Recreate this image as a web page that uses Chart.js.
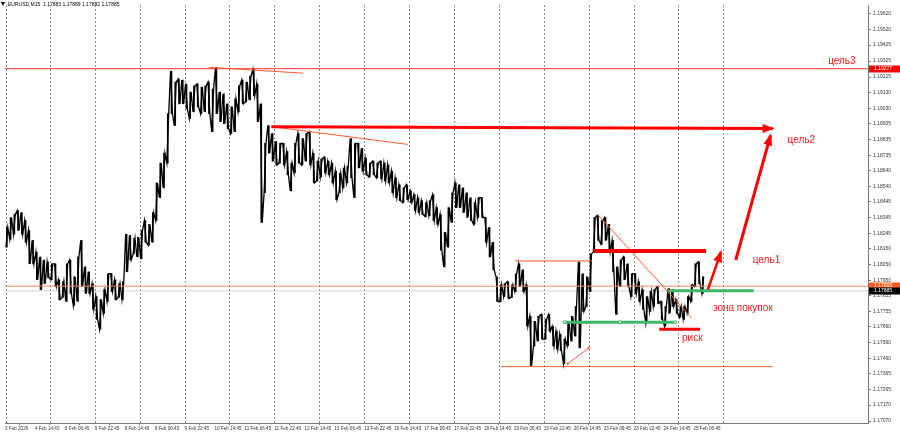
<!DOCTYPE html>
<html>
<head>
<meta charset="utf-8">
<script src="https://cdn.jsdelivr.net/npm/chart.js@4.4.1/dist/chart.umd.min.js"></script>
<style>
  html, body { margin: 0; padding: 0; background: #fff; }
  #wrap { width: 900px; height: 435px; }
</style>
</head>
<body>
<div id="wrap"><canvas id="chart" width="900" height="435"></canvas></div>
<script>
const symbolTitle = "EURUSD,M15  1.17883 1.17889 1.17882 1.17885";

const barHigh = [
  1.18283, 1.18345, 1.18364, 1.18388, 1.18376, 1.18326, 1.18264, 1.18202, 1.18129, 1.18098,
  1.18079, 1.18067, 1.18055, 1.18055, 1.17955, 1.17943, 1.18055, 1.18079, 1.17974, 1.18098,
  1.18202, 1.18036, 1.18005, 1.17931, 1.17850, 1.17831, 1.17893, 1.17993, 1.17993, 1.17955,
  1.17931, 1.17943, 1.18240, 1.18233, 1.18215, 1.18221, 1.18264, 1.18326, 1.18302, 1.18376,
  1.18562, 1.18686, 1.18748, 1.18995, 1.19262, 1.19193, 1.19212, 1.19206, 1.19181, 1.19131,
  1.19169, 1.19181, 1.19162, 1.19169, 1.19193, 1.19150, 1.19286, 1.19131, 1.19119, 1.19057,
  1.19038, 1.19088, 1.19169, 1.19206, 1.19193, 1.19231, 1.19274, 1.19181, 1.19057, 1.18809,
  1.18921, 1.18871, 1.18821, 1.18809, 1.18809, 1.18759, 1.18686, 1.18809, 1.18871, 1.18840,
  1.18871, 1.18883, 1.18748, 1.18698, 1.18711, 1.18723, 1.18698, 1.18686, 1.18636, 1.18624,
  1.18655, 1.18667, 1.18840, 1.18809, 1.18809, 1.18778, 1.18717, 1.18686, 1.18698, 1.18686,
  1.18698, 1.18686, 1.18674, 1.18636, 1.18593, 1.18550, 1.18531, 1.18550, 1.18512, 1.18488,
  1.18469, 1.18450, 1.18438, 1.18450, 1.18488, 1.18407, 1.18364, 1.18252, 1.18407, 1.18500,
  1.18562, 1.18550, 1.18531, 1.18500, 1.18469, 1.18438, 1.18469, 1.18469, 1.18345, 1.18283,
  1.18190, 1.17974, 1.17924, 1.17931, 1.17943, 1.17924, 1.17993, 1.18055, 1.18017, 1.17924,
  1.17726, 1.17695, 1.17726, 1.17738, 1.17707, 1.17738, 1.17664, 1.17633, 1.17614, 1.17583,
  1.17695, 1.17726, 1.17788, 1.18067, 1.17993, 1.17974, 1.18117, 1.18345, 1.18357, 1.18326,
  1.18345, 1.18302, 1.18202, 1.18036, 1.18079, 1.18098, 1.18055, 1.17993, 1.17993, 1.17943,
  1.17893, 1.17850, 1.17881, 1.17893, 1.17912, 1.17819, 1.17788, 1.17900, 1.17893, 1.17831,
  1.17788, 1.17788, 1.17850, 1.17924, 1.18055, 1.18067, 1.17974
];

const barLow = [
  1.18159, 1.18209, 1.18240, 1.18264, 1.18240, 1.18190, 1.18055, 1.18055, 1.17955, 1.17893,
  1.17931, 1.17968, 1.17955, 1.17912, 1.17831, 1.17844, 1.17819, 1.17869, 1.17794, 1.17819,
  1.17912, 1.17869, 1.17869, 1.17769, 1.17707, 1.17645, 1.17745, 1.17819, 1.17881, 1.17831,
  1.17844, 1.17831, 1.18005, 1.18079, 1.18117, 1.18098, 1.18086, 1.18190, 1.18171, 1.18190,
  1.18326, 1.18469, 1.18531, 1.18686, 1.18995, 1.18921, 1.19057, 1.19057, 1.19026, 1.18964,
  1.19007, 1.19038, 1.18995, 1.19007, 1.18995, 1.18883, 1.18995, 1.18945, 1.18933, 1.18902,
  1.18871, 1.18883, 1.19007, 1.19057, 1.19069, 1.19082, 1.19107, 1.18945, 1.18314, 1.18500,
  1.18748, 1.18698, 1.18674, 1.18686, 1.18674, 1.18612, 1.18512, 1.18624, 1.18686, 1.18674,
  1.18698, 1.18674, 1.18562, 1.18574, 1.18599, 1.18624, 1.18612, 1.18562, 1.18457, 1.18500,
  1.18531, 1.18562, 1.18593, 1.18469, 1.18655, 1.18636, 1.18612, 1.18599, 1.18612, 1.18593,
  1.18587, 1.18574, 1.18562, 1.18500, 1.18469, 1.18450, 1.18438, 1.18457, 1.18438, 1.18388,
  1.18376, 1.18364, 1.18351, 1.18357, 1.18326, 1.18302, 1.18140, 1.18036, 1.18159, 1.18314,
  1.18407, 1.18407, 1.18376, 1.18345, 1.18326, 1.18302, 1.18345, 1.18345, 1.18190, 1.18098,
  1.18017, 1.17819, 1.17819, 1.17850, 1.17838, 1.17844, 1.17881, 1.17912, 1.17881, 1.17664,
  1.17417, 1.17540, 1.17571, 1.17583, 1.17583, 1.17633, 1.17540, 1.17521, 1.17510, 1.17429,
  1.17540, 1.17571, 1.17602, 1.17528, 1.17757, 1.17788, 1.17881, 1.18129, 1.18202, 1.18178,
  1.18202, 1.18129, 1.18005, 1.17738, 1.17912, 1.17955, 1.17912, 1.17850, 1.17869, 1.17819,
  1.17769, 1.17683, 1.17757, 1.17788, 1.17807, 1.17707, 1.17664, 1.17745, 1.17788, 1.17745,
  1.17720, 1.17707, 1.17745, 1.17819, 1.17912, 1.17931, 1.17869
];

// time axis: hours of trading since the first visible bar
const timeLabels = [
  "3 Feb 2026", "4 Feb 14:45", "5 Feb 06:45", "5 Feb 22:45", "6 Feb 14:45", "9 Feb 06:45",
  "9 Feb 22:45", "10 Feb 14:45", "11 Feb 06:45", "11 Feb 22:45", "12 Feb 14:45", "13 Feb 06:45",
  "13 Feb 22:45", "16 Feb 14:45", "17 Feb 06:45", "17 Feb 22:45", "18 Feb 14:45", "19 Feb 06:45",
  "19 Feb 22:45", "20 Feb 14:45", "23 Feb 06:45", "23 Feb 22:45", "24 Feb 14:45", "25 Feb 06:45"
];
const labelHours = [0, 16, 32, 48, 64, 80, 96, 112, 128, 144, 160, 176, 192, 208, 224, 240,
  256, 272, 288, 304, 320, 336, 352, 368];
const gridHours = [0.5, 24, 48, 72, 96, 120, 144, 168, 192, 216, 240, 264, 288, 312, 336, 360, 384];
const xMax = 461.3;

const priceTicks = [1.19620, 1.19520, 1.19425, 1.19325, 1.19225, 1.19130, 1.19030, 1.18935,
  1.18835, 1.18735, 1.18640, 1.18540, 1.18445, 1.18345, 1.18245, 1.18150, 1.18050, 1.17950,
  1.17855, 1.17755, 1.17660, 1.17560, 1.17460, 1.17365, 1.17265, 1.17170, 1.17070];
const priceMin = 1.17058;
const priceMax = 1.19676;

// levels and drawn objects, [hour, price]
const target3Price = 1.19277;
const askPrice = 1.17915;
const bidPrice = 1.17885;
const topTrend = [[108.9, 1.19286], [159.4, 1.19249]];
const target2Ray = [[142.4, 1.18914], [410.3, 1.18902]];
const midTrend = [[142.4, 1.18914], [215.2, 1.18803]];
const target2Arrow = [[390.6, 1.18079], [409.2, 1.18859]];
const target1Level = [[314.6, 1.18135], [374.7, 1.18135]];
const fallTrend = [[316.8, 1.18364], [367.2, 1.17714]];
const buyZoneUpper = [[354.5, 1.17887], [400.2, 1.17887]];
const target1Arrow = [[375.7, 1.17893], [382.7, 1.18129]];
const buyZoneLower = [[299.2, 1.17689], [328.7, 1.17689], [358.2, 1.17689]];
const riskLevel = [[349.7, 1.17645], [371.5, 1.17645]];
const rangeTop = [[272.6, 1.18073], [313.6, 1.18073]];
const rangeBottom = [[265.2, 1.17411], [410.3, 1.17411]];
const rangeStep = [[305.6, 1.17683], [313.6, 1.17683]];
const swingMarker = [[300.8, 1.17429], [312.0, 1.17528]];

const noteTexts = ["цель3", "цель2", "цель1", "зона покупок", "риск"];
const noteAnchors = [[440.0, 1.19324], [418.3, 1.18828], [399.7, 1.18079], [378.4, 1.17776], [361.9, 1.17590]];

const FONT = "'Liberation Sans', Arial, sans-serif";
const RED = "#ff0000";
const ORANGE = "#ff5a28";
const GREEN = "#3cb86a";

const toXY = (pts) => pts.map(([x, y]) => ({ x, y }));

function seg(points, color, width, extra) {
  return Object.assign({
    type: "line",
    data: toXY(points),
    borderColor: color,
    backgroundColor: color,
    borderWidth: width,
    pointRadius: 0,
    fill: false,
    tension: 0,
    order: 1,
  }, extra || {});
}

// each 2-hour slot becomes a high/low stroke; the price path swings between them
const pricePath = [];
barHigh.forEach((h, i) => {
  const l = barLow[i];
  const nextDown = i + 1 < barHigh.length && barHigh[i + 1] < h;
  const first = nextDown ? h : l;
  const second = nextDown ? l : h;
  pricePath.push({ x: i * 2 + 0.5, y: first }, { x: i * 2 + 1.5, y: second });
});
const barData = barHigh.map((h, i) => ({ x: i * 2 + 1, y: [barLow[i], h] }));

const datasets = [
  seg(target2Ray, RED, 3, { arrowHead: true }),
  seg(target2Arrow, RED, 3, { arrowHead: true }),
  seg(target1Arrow, RED, 2.5, { arrowHead: true }),
  seg(target1Level, RED, 4),
  seg(riskLevel, RED, 3),
  seg(buyZoneUpper, GREEN, 3),
  seg(buyZoneLower, GREEN, 3, {
    pointRadius: 1.8, pointStyle: "rect", pointBackgroundColor: "#fff", pointBorderColor: GREEN, pointBorderWidth: 1,
  }),
  seg(topTrend, ORANGE, 1),
  seg(midTrend, ORANGE, 1),
  seg(fallTrend, ORANGE, 1),
  seg(rangeTop, ORANGE, 1),
  seg(rangeBottom, ORANGE, 1),
  seg(rangeStep, ORANGE, 1),
  seg(swingMarker, ORANGE, 1, { pointRadius: 1.2, pointBackgroundColor: ORANGE, pointBorderWidth: 0 }),
  seg([[0, target3Price], [xMax, target3Price]], "#ff3030", 1),
  seg([[0, askPrice], [xMax, askPrice]], "#f08a5d", 1),
  {
    type: "line",
    data: pricePath,
    borderColor: "#000",
    borderWidth: 1.3,
    pointRadius: 0,
    tension: 0,
    order: 9,
  },
  {
    type: "bar",
    data: barData,
    backgroundColor: "#000",
    barThickness: 1,
    order: 10,
  },
  seg([[0, bidPrice], [xMax, bidPrice]], "#d0d0d0", 1, { order: 20 }),
];

const drawExtras = {
  id: "drawExtras",
  beforeDatasetsDraw(chart) {
    const { ctx, chartArea, scales } = chart;
    ctx.save();
    ctx.strokeStyle = "#8c8c8c";
    ctx.lineWidth = 1;
    ctx.setLineDash([2, 2]);
    gridHours.forEach((h) => {
      const px = Math.round(scales.x.getPixelForValue(h)) + 0.5;
      ctx.beginPath();
      ctx.moveTo(px, chartArea.top);
      ctx.lineTo(px, chartArea.bottom);
      ctx.stroke();
    });
    ctx.restore();
  },
  afterDatasetsDraw(chart) {
    const { ctx, scales } = chart;
    ctx.save();
    // arrow heads on the ends of the arrow lines
    chart.data.datasets.forEach((ds, i) => {
      if (!ds.arrowHead) return;
      const pts = chart.getDatasetMeta(i).data;
      const a = pts[pts.length - 2];
      const b = pts[pts.length - 1];
      const ang = Math.atan2(b.y - a.y, b.x - a.x);
      const len = 10;
      const half = 4.5;
      ctx.fillStyle = ds.borderColor;
      ctx.beginPath();
      ctx.moveTo(b.x + Math.cos(ang) * 2, b.y + Math.sin(ang) * 2);
      ctx.lineTo(b.x - Math.cos(ang) * len - Math.sin(ang) * half, b.y - Math.sin(ang) * len + Math.cos(ang) * half);
      ctx.lineTo(b.x - Math.cos(ang) * len + Math.sin(ang) * half, b.y - Math.sin(ang) * len - Math.cos(ang) * half);
      ctx.closePath();
      ctx.fill();
    });
    // text notes
    ctx.font = "10px " + FONT;
    ctx.fillStyle = "#ff1a1a";
    ctx.textBaseline = "middle";
    ctx.textAlign = "left";
    noteTexts.forEach((t, i) => {
      const [h, p] = noteAnchors[i];
      ctx.fillText(t, scales.x.getPixelForValue(h), scales.y.getPixelForValue(p));
    });
    ctx.restore();
  },
  afterDraw(chart) {
    const { ctx, chartArea, scales } = chart;
    ctx.save();
    // header
    ctx.fillStyle = "#000";
    ctx.beginPath();
    ctx.moveTo(1, 2);
    ctx.lineTo(5, 2);
    ctx.lineTo(3, 6);
    ctx.closePath();
    ctx.fill();
    ctx.font = "5px " + FONT;
    ctx.textBaseline = "middle";
    ctx.fillText(symbolTitle, 8, 4.5);
    // price tags on the axis
    const tags = [
      [target3Price, "#ff0000", "#fff"],
      [askPrice, "#ff5a1e", "#fff"],
      [bidPrice, "#000", "#fff"],
    ];
    tags.forEach(([v, bg, fg]) => {
      const y = Math.round(scales.y.getPixelForValue(v));
      ctx.fillStyle = bg;
      ctx.fillRect(chartArea.right + 1, y - 3.5, 32, 7);
      ctx.fillStyle = fg;
      ctx.fillText(v.toFixed(5), chartArea.right + 6, y);
    });
    ctx.restore();
  },
};

new Chart(document.getElementById("chart"), {
  type: "bar",
  data: { datasets },
  options: {
    responsive: false,
    devicePixelRatio: 1,
    animation: false,
    layout: { padding: 0 },
    plugins: { legend: { display: false }, tooltip: { enabled: false } },
    scales: {
      x: {
        type: "linear",
        min: 0,
        max: xMax,
        offset: false,
        position: "bottom",
        afterBuildTicks(axis) {
          axis.ticks = labelHours.map((v) => ({ value: v }));
        },
        afterFit(axis) {
          axis.height = 12;
          axis.paddingLeft = 0;
          axis.paddingRight = 0;
        },
        ticks: {
          align: "start",
          autoSkip: false,
          maxRotation: 0,
          padding: 1,
          color: "#333",
          font: { size: 4.6, family: FONT },
          callback: (v, i) => timeLabels[i],
        },
        grid: { drawOnChartArea: false, tickLength: 2, color: "#777" },
        border: { color: "#777" },
      },
      y: {
        type: "linear",
        position: "right",
        min: priceMin,
        max: priceMax,
        afterBuildTicks(axis) {
          axis.ticks = priceTicks.map((v) => ({ value: v }));
        },
        afterFit(axis) {
          axis.width = 32;
          axis.paddingTop = 0;
          axis.paddingBottom = 0;
        },
        ticks: {
          padding: 2,
          color: "#333",
          font: { size: 5, family: FONT },
          callback: (v) => Number(v).toFixed(5),
        },
        grid: { drawOnChartArea: false, tickLength: 3, color: "#777" },
        border: { color: "#777" },
      },
    },
  },
  plugins: [drawExtras],
});
</script>
</body>
</html>
